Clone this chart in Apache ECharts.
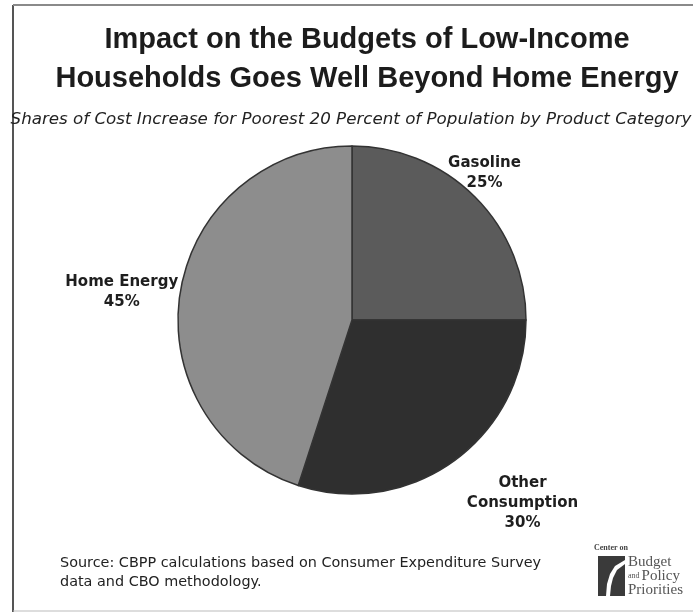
<!DOCTYPE html>
<html>
<head>
<meta charset="utf-8">
<script src="https://cdn.jsdelivr.net/npm/echarts@6/dist/echarts.min.js"></script>
<style>
  html, body { margin: 0; padding: 0; background: #ffffff; }
  #chart { width: 693px; height: 613px; }
</style>
</head>
<body>
<div id="chart"></div>
<script>
// Product categories and their share of the cost increase (percent)
const categories = ['Gasoline', 'Other\nConsumption', 'Home Energy'];
const shares = [25, 30, 45];
const sliceColors = ['#5b5b5b', '#2f2f2f', '#8d8d8d'];

// Label placement: distance from pie centre and angular nudge (degrees)
const labelDistance = [198, 250, 232];
const labelAngleNudge = [-3, -7, -2];

const PIE_CX = 352, PIE_CY = 320, PIE_R = 174;

// mid-angle of each slice, clockwise from 12 o'clock, derived from the shares
const total = shares.reduce((a, b) => a + b, 0);
const midAngles = [];
let acc = 0;
shares.forEach(v => {
  midAngles.push((acc + v / 2) / total * 360);
  acc += v;
});

const chart = echarts.init(document.getElementById('chart'), null, { renderer: 'canvas' });

chart.setOption({
  backgroundColor: '#ffffff',
  animation: false,
  title: [
    {
      text: 'Impact on the Budgets of Low-Income\nHouseholds Goes Well Beyond Home Energy',
      left: 362, top: 15, textAlign: 'center',
      textStyle: {
        fontFamily: '"Liberation Sans", Arial, sans-serif',
        fontWeight: 'bold', fontSize: 29, lineHeight: 39, color: '#1c1c1c'
      }
    },
    {
      text: 'Shares of Cost Increase for Poorest 20 Percent of Population by Product Category',
      left: 346, top: 106, textAlign: 'center',
      textStyle: {
        fontFamily: '"DejaVu Sans", Verdana, sans-serif',
        fontStyle: 'italic', fontWeight: 'normal', fontSize: 16.7, color: '#222'
      }
    }
  ],
  series: [{
    type: 'pie',
    center: [PIE_CX, PIE_CY],
    radius: PIE_R,
    startAngle: 90,
    clockwise: true,
    silent: true,
    data: categories.map((c, i) => ({
      name: c, value: shares[i], itemStyle: { color: sliceColors[i] }
    })),
    itemStyle: { borderColor: '#333333', borderWidth: 1.5 },
    label: {
      show: true,
      position: 'outside',
      formatter: p => p.name + '\n' + p.value + '%',
      fontFamily: '"DejaVu Sans", Verdana, sans-serif',
      fontWeight: 'bold', fontSize: 15, lineHeight: 20,
      color: '#1e1e1e', align: 'center'
    },
    labelLine: { show: false },
    labelLayout: p => {
      const i = p.dataIndex;
      const a = (midAngles[i] + labelAngleNudge[i]) * Math.PI / 180;
      return {
        x: PIE_CX + labelDistance[i] * Math.sin(a),
        y: PIE_CY - labelDistance[i] * Math.cos(a),
        align: 'center', verticalAlign: 'middle'
      };
    }
  }],
  graphic: {
    elements: [
      // frame
      { type: 'line', shape: { x1: 13, y1: 5, x2: 13, y2: 612 }, style: { stroke: '#555', lineWidth: 2 } },
      { type: 'line', shape: { x1: 13, y1: 5, x2: 693, y2: 5 }, style: { stroke: '#8a8a8a', lineWidth: 2 } },
      { type: 'line', shape: { x1: 13, y1: 611, x2: 693, y2: 611 }, style: { stroke: '#bbb', lineWidth: 1 } },
      // source note
      {
        type: 'text', x: 60, y: 554,
        style: {
          text: 'Source: CBPP calculations based on Consumer Expenditure Survey\ndata and CBO methodology.',
          font: '14.4px "DejaVu Sans", Verdana, sans-serif', lineHeight: 19, fill: '#222'
        }
      },
      // logo
      {
        type: 'text', x: 594, y: 544,
        style: { text: 'Center on', font: 'bold 8px "Liberation Serif", serif', fill: '#444' }
      },
      { type: 'rect', shape: { x: 598, y: 556, width: 27, height: 40 }, style: { fill: '#3a3a3a' } },
      {
        type: 'polygon',
        shape: { points: [[606, 596], [607, 584], [610, 574], [615, 566], [625, 560], [625, 564], [617, 570], [613, 578], [611, 586], [610, 596]] },
        style: { fill: '#ffffff' }
      },
      {
        type: 'text', x: 628, y: 555,
        style: {
          text: '{b|Budget}\n{s|and }{b|Policy}\n{b|Priorities}',
          lineHeight: 14, fill: '#555',
          rich: {
            b: { font: '15px "Liberation Serif", serif', fill: '#555', lineHeight: 14 },
            s: { font: '8px "Liberation Serif", serif', fill: '#555', lineHeight: 14 }
          }
        }
      }
    ]
  }
});
</script>
</body>
</html>
